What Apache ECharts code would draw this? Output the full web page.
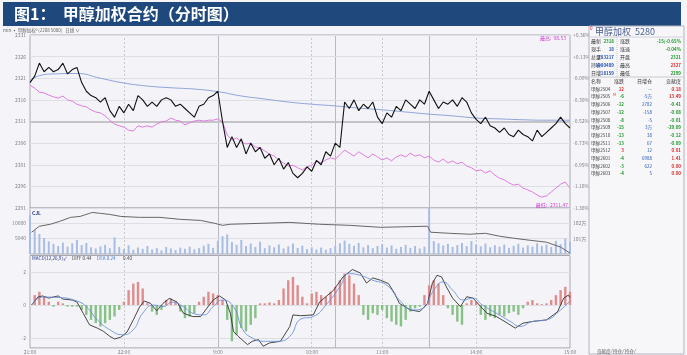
<!DOCTYPE html>
<html>
<head>
<meta charset="utf-8">
<script src="https://cdn.jsdelivr.net/npm/echarts@6/dist/echarts.min.js"></script>
<style>
html,body{margin:0;padding:0;background:#fff;}
#main{width:687px;height:355px;}
</style>
</head>
<body>
<div id="main"></div>
<script>
// 刻度
var priceTicks = [2291, 2296, 2301, 2306, 2311, 2316, 2321, 2326, 2331];
var pctTicks = ['-1.38%', '-1.16%', '-0.95%', '-0.73%', '-0.52%', '-0.30%', '-0.09%', '+0.13%', '+0.36%'];
var timeTicks = [0, 60, 120, 180, 225, 285, 345];      // 交易分钟序号
var timeLabels = ['21:00', '22:00', '9:00', '10:00', '11:00', '14:00', '15:00'];
var dottedTimes = [60, 180, 225, 285];
var solidTimes = [120, 195, 255];
var volTicks = [5040, 10080];
var oiTicks = [101, 102];
var macdTicks = [-2, 0, 2];

// 分时价格 (每3分钟一点)
var price = [2320, 2321.5, 2324.5, 2322.5, 2323.5, 2322.5, 2323, 2324.5, 2322, 2323,
  2323.5, 2320, 2318, 2317, 2316.5, 2315.5, 2316.5, 2313.5, 2312, 2314.5,
  2313, 2315, 2313.5, 2317, 2316, 2314.5, 2315.5, 2314.5, 2316, 2316.5,
  2316, 2314.5, 2315, 2314, 2313, 2312, 2314.5, 2315, 2316.5, 2317,
  2318, 2311, 2305, 2307.5, 2305, 2307, 2303.5, 2306, 2304, 2305,
  2302.5, 2303.5, 2301, 2302.5, 2300, 2301.5, 2299, 2298, 2299, 2300.5,
  2299.5, 2302, 2301, 2304, 2303, 2306, 2305, 2315.5, 2314, 2316,
  2313.5, 2315, 2314, 2315.5, 2312, 2310.5, 2313, 2312, 2314.5, 2313.5,
  2316, 2315, 2314, 2316, 2315, 2318, 2316, 2314, 2315.5, 2315,
  2316, 2314.5, 2316.5, 2315.5, 2313, 2311.5, 2310.5, 2312, 2310, 2309.5,
  2308.5, 2309.5, 2308, 2307.5, 2309, 2308, 2307.5, 2306.5, 2309, 2307.5,
  2308.5, 2309.5, 2310.5, 2312, 2310.5, 2309.5];

// 叠加品种 (粉线)
var overlay = [2319.4, 2318.7, 2317.8, 2317.6, 2317.1, 2316.7, 2316.4, 2316.9, 2316.0, 2315.7,
  2315.0, 2314.6, 2314.4, 2313.7, 2313.2, 2313.0, 2312.3, 2311.3, 2310.4, 2310.0,
  2309.7, 2309.0, 2308.8, 2310.0, 2309.7, 2310.0, 2309.7, 2310.4, 2310.9, 2311.1,
  2311.8, 2311.3, 2311.1, 2310.2, 2310.7, 2311.1, 2311.3, 2311.1, 2311.3, 2311.3,
  2311.6, 2310.9, 2307.9, 2306.7, 2307.2, 2306.3, 2305.8, 2306.0, 2305.1, 2304.9,
  2304.2, 2303.5, 2303.0, 2302.1, 2301.4, 2300.7, 2300.9, 2300.3, 2299.8, 2300.5,
  2300.9, 2301.9, 2301.4, 2302.1, 2302.6, 2302.3, 2303.3, 2304.4, 2303.7, 2303.0,
  2304.0, 2303.3, 2302.6, 2303.5, 2302.8, 2302.1, 2302.6, 2301.9, 2302.8, 2303.3,
  2302.8, 2303.7, 2303.0, 2303.3, 2302.6, 2303.0, 2302.1, 2301.6, 2302.3, 2301.4,
  2301.9, 2301.2, 2301.6, 2300.7, 2300.3, 2299.6, 2299.8, 2299.1, 2299.6, 2298.6,
  2297.9, 2297.5, 2296.8, 2296.3, 2296.5, 2295.6, 2295.2, 2294.7, 2294.0, 2293.5,
  2293.8, 2294.7, 2295.6, 2296.5, 2297.0, 2295.6];

// 均价线 [分钟, 价格]
var avgPrice = [[0, 2320.5], [6, 2321.6], [15, 2322], [30, 2322.1], [45, 2321], [60, 2319.9],
  [75, 2319.2], [90, 2318.8], [105, 2318.5], [120, 2317.9], [135, 2316.9], [150, 2316.2],
  [165, 2315.5], [180, 2315.0], [195, 2314.6], [210, 2314.1], [225, 2313.7], [240, 2313.2],
  [255, 2312.7], [270, 2312.3], [285, 2311.8], [300, 2311.6], [315, 2311.4], [330, 2311.3], [345, 2311.3]];

// 成交量 (每3分钟)
var volume = [12700, 7800, 6500, 5200, 4100, 3300, 2600, 3700, 2400, 3500,
  4600, 2900, 3600, 2200, 1800, 2500, 3000, 1900, 5400, 2300,
  1600, 2800, 1400, 2100, 1700, 2600, 1500, 1900, 1200, 2300,
  1800, 1300, 2100, 1700, 2400, 1500, 1900, 2700, 3300, 2000,
  4300, 5800, 6400, 3900, 3000, 4600, 2600, 3400, 2300, 4000,
  1900, 2800, 2200, 3100, 1800, 2500, 3400, 2000, 2700, 1600,
  2200, 1500, 2100, 1400, 1900, 2600, 3500, 4400, 3300, 2700,
  3600, 2200, 2900, 1900, 2600, 3200, 2100, 2800, 1700, 2300,
  3000, 2000, 2600, 1800, 2400, 15000, 4200, 3500, 2800, 3300,
  2300, 2900, 3600, 2600, 4200, 3100, 2500, 3400, 2200, 2900,
  2400, 3100, 2000, 2700, 3300, 2100, 2800, 2400, 3500, 2600,
  3100, 2300, 4300, 3200, 5000, 3900];

// 持仓量 (万手) [分钟, 值]
var openInterest = [[1, 101.42], [6, 101.81], [13, 101.94], [19, 102.13], [26, 102.39], [32, 102.45],
  [38, 102.65], [40, 102.71], [45, 102.65], [51, 102.58], [58, 102.45], [70, 102.39],
  [83, 102.39], [96, 102.26], [109, 102.19], [118, 102.0], [123, 101.87], [128, 101.94],
  [147, 102.0], [166, 102.06], [185, 101.94], [204, 101.87], [224, 101.74], [254, 101.81],
  [256, 101.42], [268, 101.35], [281, 101.29], [291, 101.35], [300, 101.16], [309, 101.03],
  [319, 100.9], [330, 100.77], [339, 100.45], [345, 100.06]];

// MACD 柱 (每3分钟)
var macdBar = [0, 0.6, 0.8, 0.5, 0.2, -0.1, 0.2, 0.1, -0.1, -0.1,
  -0.1, -0.3, -0.6, -0.9, -1.1, -1.3, -1.1, -0.9, -0.7, -0.3,
  0.2, 0.9, 1.3, 1.4, 1.0, 0.1, -0.4, -0.6, -0.3, 0.3,
  0.4, 0.2, -0.4, -0.8, -0.7, -0.5, 0.2, 0.5, 0.8, 0.7,
  0.6, 0.3, -0.9, -2.2, -1.8, -1.4, -1.6, -1.2, -0.8, 0.1,
  0.1, 0.15, 0.1, 0.3, 1.0, 1.5, 1.7, 1.2, 0.5, 0.1,
  0.7, 0.8, 0.6, 0.5, 0.8, 1.1, 1.5, 1.9, 1.8, 1.3,
  0.6, -0.6, -0.9, -0.5, -0.6, -0.3, -0.8, -1.0, -1.2, -1.3,
  -0.9, -0.4, -0.2, -0.1, 0.6, 1.2, 1.5, 1.3, 0.6, -0.2,
  -0.6, -1.0, -1.2, 0.1, 0.3, 0.2, -0.6, -0.9, -0.7, -0.8,
  -0.6, -0.7, -0.5, -0.4, -0.6, -0.2, 0.2, 0.3, 0.1, 0.05,
  0.1, 0.3, 0.6, 0.9, 1.1, 0.8];

var diffLine = [[1, 0], [5, 0.48], [8, 0.55], [12, 0.42], [18, 0.55], [21, 0.36], [27, 0.3], [30, 0.18],
  [34, -0.5], [38, -1.2], [43, -1.4], [47, -1.6], [51, -1.9], [54, -2.06], [58, -1.95], [62, -1.64],
  [66, -0.9], [70, -0.12], [73, 0.24], [77, 0.1], [81, -0.35], [85, 0.1], [89, 0.4], [94, 0.18],
  [98, -0.5], [104, -0.7], [109, -0.7], [113, -0.2], [117, 0.3], [121, 0.55], [125, 0.3], [128, -0.5],
  [130, -1.6], [133, -1.9], [139, -2.4], [142, -2.2], [146, -2.1], [149, -2.5], [153, -2.3], [160, -2.2],
  [166, -1.3], [168, -0.6], [173, -0.65], [181, -0.6], [185, 0.18], [194, 0.9], [200, 1.7], [206, 2.15],
  [211, 1.94], [215, 1.33], [219, 1.64], [224, 1.5], [229, 1.3], [233, 0.7], [236, 0.1], [243, -0.3],
  [249, -0.4], [254, 0.1], [257, 1.3], [260, 1.8], [263, 1.7], [266, 1.1], [270, 0.42], [275, -0.1],
  [279, 0.5], [283, 0.42], [288, -0.1], [292, -0.5], [298, -0.7], [305, -1.1], [310, -1.4], [315, -1.1],
  [321, -1.0], [330, -0.9], [337, -0.42], [341, 0.42], [344, 0.6], [345, 0.44]];

var deaLine = [[1, 0], [8, 0.48], [19, 0.45], [30, 0.24], [36, -0.1], [43, -0.9], [51, -1.5], [59, -1.8],
  [66, -1.5], [72, -0.5], [79, 0], [85, -0.1], [91, 0.18], [98, -0.1], [104, -0.5], [111, -0.6],
  [117, -0.1], [123, 0.3], [130, -0.1], [136, -1.5], [142, -2.0], [149, -2.2], [158, -2.2], [166, -1.9],
  [173, -0.85], [181, -0.7], [190, 0.1], [198, 1.1], [204, 1.9], [211, 1.8], [219, 1.5], [228, 1.2],
  [236, 0.3], [245, -0.3], [251, -0.2], [258, 0.9], [264, 1.4], [270, 0.9], [277, 0.3], [283, 0.42],
  [289, 0], [298, -0.5], [307, -1.0], [313, -1.3], [321, -1.0], [330, -0.9], [339, -0.3], [345, 0.24]];

// 右侧报价
var quoteLeft = [['最新', '2318'], ['现手', '18'], ['总量', '783217'], ['持仓', '1080489'], ['日增', '-18159']];
var quoteRight = [['涨跌', '-15/-0.65%'], ['涨速', '-0.04%'], ['开盘', '2321'], ['最高', '2327'], ['最低', '2299']];
var contractNames = ['甲醇2504', '甲醇2505', '甲醇2506', '甲醇2507', '甲醇2508', '甲醇2509',
  '甲醇2510', '甲醇2511', '甲醇2512', '甲醇2601', '甲醇2602', '甲醇2603'];
var contractChg = ['12', '-6', '-12', '-12', '-8', '-15', '-13', '-13', '3', '-4', '-3', '-4'];
var contractOi = ['—', '-5万', '2782', '-158', '-5', '3万', '38', '67', '12', '6988', '622', '5'];
var contractContrib = ['0.18', '13.49', '-0.41', '-0.08', '-0.01', '-29.09', '-0.12', '-0.09', '0.01', '1.41', '0.00', '0.00'];

var FONT = '"Noto Sans CJK SC", "Noto Sans", sans-serif';
var RED = '#e02828', GREEN = '#1f9a2a', BLUE = '#2456b4';

function every3(arr) {
    var out = [];
    for (var i = 0; i < arr.length; i++) out.push([i * 3, arr[i]]);
    return out;
}

var vLines = dottedTimes.map(function (m) {
    return {xAxis: m, lineStyle: {type: [2, 2], color: '#c8c8d0', width: 1}};
}).concat(solidTimes.map(function (m) {
    return {xAxis: m, lineStyle: {type: 'solid', color: '#b8b8c0', width: 1}};
}));
function hLines(ticks, strong) {
    return ticks.map(function (v) {
        return {yAxis: v, lineStyle: {type: 'solid', color: v === strong ? '#c4c4c8' : '#dedee6', width: v === strong ? 2 : 1}};
    });
}
function marks(data) {
    return {silent: true, symbol: ['none', 'none'], label: {show: false}, animation: false, data: data};
}

var gridBox = {show: true, backgroundColor: '#f4f4f8', borderColor: '#a8a8b0', borderWidth: 1, outerBoundsMode: 'none'};
var lbl = {fontSize: 5, color: '#808088', fontFamily: FONT};

function xAx(idx, withLabel) {
    return {
        gridIndex: idx, type: 'value', min: 0, max: 345,
        axisLine: {show: false}, axisTick: {show: false}, splitLine: {show: false},
        axisLabel: withLabel ? Object.assign({customValues: timeTicks, margin: 2,
            formatter: function (v) { return timeLabels[timeTicks.indexOf(v)]; }}, lbl) : {show: false}
    };
}
function yAx(idx, pos, min, max, ticks, fmt) {
    return {
        gridIndex: idx, type: 'value', position: pos, min: min, max: max,
        axisLine: {show: false}, axisTick: {show: false}, splitLine: {show: false},
        axisLabel: Object.assign({customValues: ticks, margin: pos === 'left' ? 4 : 3, formatter: fmt}, lbl)
    };
}

function txt(x, y, s, color, size, align, bold) {
    return {type: 'text', x: x, y: y, z: 20, style: {text: s, fill: color, align: align || 'left', verticalAlign: 'middle',
        font: (bold ? 'bold ' : '') + size + 'px ' + FONT}};
}

// 标题与右侧面板
var graphics = [
    {type: 'rect', shape: {x: 3, y: 2, width: 678, height: 24}, style: {fill: '#1F497D'}},
    txt(14, 14, '图1：  甲醇加权合约（分时图）', '#fff', 16, 'left', true),
    txt(3, 30, 'min ▪ 甲醇加权⁰ (2208 5080)   日线 ∨', '#666', 4.5),
    txt(32, 213, 'CJL', '#22348a', 5, 'left', true),
    txt(32, 258, 'MACD(12,26,9)↙', '#22348a', 4.6),
    txt(72, 258, 'DIFF 0.44', '#444', 4.6),
    txt(97, 258, 'DEA 0.24', '#4a7ad0', 4.6),
    txt(123, 258, '0.40', '#444', 4.6),
    txt(566, 38, '最高:  98.53', '#d040d0', 5, 'right'),
    txt(568, 205, '最低: -2311.47', '#d040d0', 5, 'right'),
    {type: 'rect', z: 15, shape: {x: 589, y: 26, width: 95, height: 328}, style: {fill: '#f7f7fa', stroke: '#b4b4bc', lineWidth: 1}},
    txt(590, 28, '0', RED, 4.5),
    txt(595, 32, '甲醇加权  5280', '#4a5f8e', 9),
    {type: 'line', z: 16, shape: {x1: 589, y1: 37, x2: 684, y2: 37}, style: {stroke: '#d0d0d8'}},
    {type: 'line', z: 16, shape: {x1: 617, y1: 37, x2: 617, y2: 76}, style: {stroke: '#c8c8d0', lineDash: [1, 1]}},
    {type: 'line', z: 16, shape: {x1: 589, y1: 77, x2: 684, y2: 77}, style: {stroke: '#c8c8d0'}},
    txt(597, 351, '贡献度 ⁄ 持仓 ⁄ 持仓 ⁄', '#555', 4.5)
];
var leftColors = [GREEN, BLUE, BLUE, BLUE, BLUE];
var rightColors = [GREEN, GREEN, GREEN, RED, GREEN];
var rowY = [41, 49, 57, 65, 73];
for (var r = 0; r < quoteLeft.length; r++) {
    graphics.push(txt(591, rowY[r], quoteLeft[r][0], '#333', 5));
    graphics.push(txt(614, rowY[r], quoteLeft[r][1], leftColors[r], 4.5, 'right', true));
    graphics.push(txt(620, rowY[r], quoteRight[r][0], '#333', 5));
    graphics.push(txt(681, rowY[r], quoteRight[r][1], rightColors[r], 4.5, 'right', true));
}
var head = [['名称', 591, 'left'], ['涨跌', 624, 'right'], ['日增仓', 652, 'right'], ['贡献度', 681, 'right']];
head.forEach(function (h) {
    graphics.push(txt(h[1], 81, h[0], '#333', 5, h[2]));
});
for (var k = 0; k < contractNames.length; k++) {
    var y = 89 + k * 7.7;
    var chgColor = contractChg[k].charAt(0) === '-' ? GREEN : RED;
    var conColor = contractContrib[k].charAt(0) === '-' ? GREEN : RED;
    graphics.push(txt(591, y, contractNames[k], '#444', 4.6));
    if (k === 1) graphics.push(txt(613, y - 2, 'M', RED, 3.5));
    graphics.push(txt(624, y, contractChg[k], chgColor, 4.5, 'right', true));
    graphics.push(txt(652, y, contractOi[k], BLUE, 4.5, 'right'));
    graphics.push(txt(681, y, contractContrib[k], conColor, 4.5, 'right', true));
}

var myChart = echarts.init(document.getElementById('main'));
var option = {
    animation: false,
    backgroundColor: '#f5f5f9',
    textStyle: {fontFamily: FONT},
    grid: [
        Object.assign({left: 30, right: 117, top: 35, height: 173}, gridBox),
        Object.assign({left: 30, right: 117, top: 208, height: 46}, gridBox),
        Object.assign({left: 30, right: 117, top: 255.5, height: 92.4}, gridBox)
    ],
    xAxis: [xAx(0, false), xAx(1, false), xAx(2, true)],
    yAxis: [
        yAx(0, 'left', 2291, 2331, priceTicks, function (v) { return String(v); }),
        yAx(0, 'right', 2291, 2331, priceTicks, function (v) { return pctTicks[priceTicks.indexOf(v)]; }),
        yAx(1, 'left', 0, 15000, volTicks, function (v) { return String(v); }),
        yAx(1, 'right', 100, 103, oiTicks, function (v) { return v + '万'; }),
        yAx(2, 'left', -2.6, 3.0, macdTicks, function (v) { return String(v); })
    ],
    graphic: {elements: graphics},
    series: [
        {type: 'line', name: '价格', xAxisIndex: 0, yAxisIndex: 0, data: every3(price), symbol: 'none', z: 10,
            lineStyle: {color: '#111', width: 1.1},
            markLine: marks(vLines.concat(hLines(priceTicks, 2311)))},
        {type: 'line', name: '均价', xAxisIndex: 0, yAxisIndex: 0, data: avgPrice, symbol: 'none', z: 9,
            smooth: true, lineStyle: {color: '#8fa3da', width: 1}},
        {type: 'line', name: '叠加', xAxisIndex: 0, yAxisIndex: 0, data: every3(overlay), symbol: 'none', z: 8,
            lineStyle: {color: '#e07ce0', width: 1}},
        {type: 'bar', name: '成交量', xAxisIndex: 1, yAxisIndex: 2, data: every3(volume), barWidth: 2, z: 10,
            itemStyle: {color: '#a8bde3'},
            markLine: marks(vLines.concat(hLines(volTicks, null)))},
        {type: 'line', name: '持仓', xAxisIndex: 1, yAxisIndex: 3, data: openInterest, symbol: 'none', z: 11,
            lineStyle: {color: '#666', width: 1}},
        {type: 'bar', name: 'MACD', xAxisIndex: 2, yAxisIndex: 4, data: every3(macdBar), barWidth: 2.4, z: 10,
            itemStyle: {color: function (p) { return p.value[1] >= 0 ? '#de8c8c' : '#86c186'; }},
            markLine: marks(vLines.concat(hLines(macdTicks, null)))},
        {type: 'line', name: 'DIFF', xAxisIndex: 2, yAxisIndex: 4, data: diffLine, symbol: 'none', z: 11,
            lineStyle: {color: '#333', width: 0.9}},
        {type: 'line', name: 'DEA', xAxisIndex: 2, yAxisIndex: 4, data: deaLine, symbol: 'none', z: 11,
            smooth: true, lineStyle: {color: '#6d93d8', width: 0.9}}
    ]
};
myChart.setOption(option);
</script>
</body>
</html>
